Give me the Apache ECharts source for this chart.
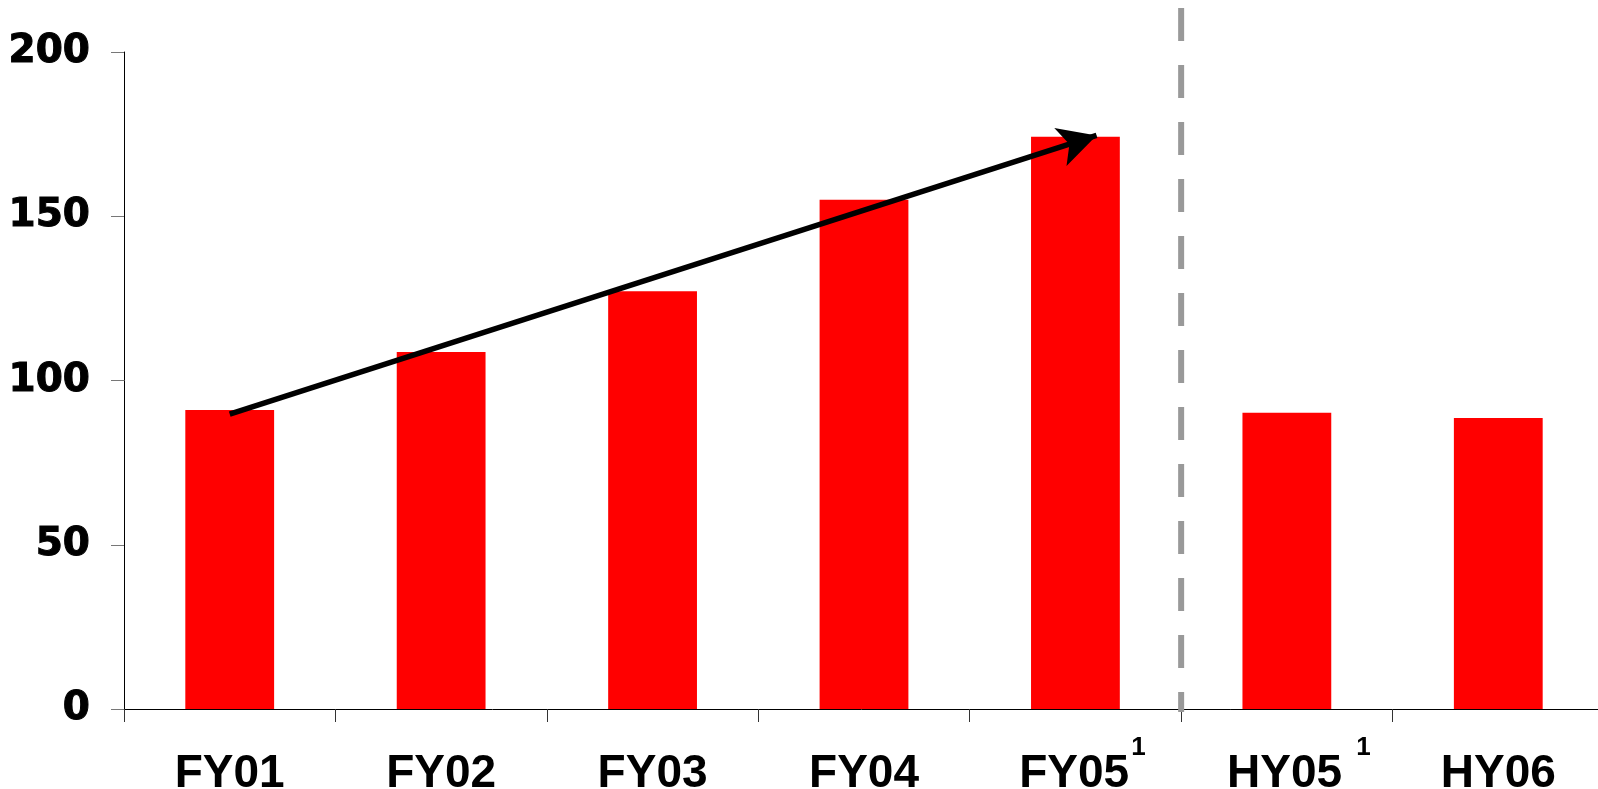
<!DOCTYPE html>
<html>
<head>
<meta charset="utf-8">
<style>
  html, body { margin: 0; padding: 0; background: #fff; }
  #chart { width: 1598px; height: 789px; }
</style>
<script src="https://cdn.jsdelivr.net/npm/echarts@6/dist/echarts.min.js"></script>
</head>
<body>
<div id="chart"></div>
<script>
// Period labels and footnote markers shown next to them
const categories = ['FY01', 'FY02', 'FY03', 'FY04', 'FY05', 'HY05', 'HY06'];
const footnotes  = ['', '', '', '', '1', '1', ''];

// Bar values per period
const values = [91.0, 108.7, 127.2, 155.0, 174.2, 90.2, 88.6];

// Y axis scale
const yMin = 0, yMax = 200, yStep = 50;

// Growth trend arrow: start and end points (x in category units, band centres at i + 0.5)
const trendStart = [0.5, 89.8];
const trendEnd   = [4.6, 174.6];

// Position of the divider between full-year and half-year figures (category boundary)
const dividerAt = 5;

const chart = echarts.init(document.getElementById('chart'));

const gridLeft = 124, gridWidth = 1480, gridBottom = 80;

const labelFont = 'Liberation Sans, Arial, sans-serif';
const mainStyle = (padLeft) => ({
  fontFamily: labelFont, fontWeight: 'bold', fontSize: 46, color: '#000',
  verticalAlign: 'bottom', padding: [18, 0, 0, padLeft]
});
const supStyle = (padLeft) => ({
  fontFamily: labelFont, fontWeight: 'bold', fontSize: 26, color: '#000',
  verticalAlign: 'top', padding: [2, 0, 0, padLeft]
});

// half-year footnote sits a little further from its label
const labelText = (v, i) => {
  if (!footnotes[i]) return '{m|' + v + '}';
  const half = v.startsWith('HY');
  return (half ? '{mh|' : '{mf|') + v + '}' + (half ? '{sh|' : '{sf|') + footnotes[i] + '}';
};

chart.setOption({
  animation: false,
  grid: [
    { left: gridLeft, width: gridWidth, top: 52, bottom: gridBottom, outerBoundsMode: 'none', containLabel: false },
    { left: gridLeft, width: gridWidth, top: 8, bottom: gridBottom - 3, outerBoundsMode: 'none', containLabel: false }
  ],
  xAxis: [
    {
      type: 'category',
      gridIndex: 0,
      data: categories,
      boundaryGap: true,
      axisLine: { lineStyle: { color: '#000', width: 1 } },
      axisTick: { show: true, length: 13, lineStyle: { color: '#333', width: 1 } },
      axisLabel: {
        margin: 24,
        interval: 0,
        color: '#000',
        formatter: labelText,
        rich: {
          m: mainStyle(0),
          mf: mainStyle(14),
          mh: mainStyle(24),
          sf: supStyle(2),
          sh: supStyle(14)
        }
      }
    },
    { type: 'value', gridIndex: 0, min: 0, max: categories.length, show: false },
    { type: 'value', gridIndex: 1, min: 0, max: categories.length, show: false }
  ],
  yAxis: [
    {
      type: 'value',
      gridIndex: 0,
      min: yMin,
      max: yMax,
      interval: yStep,
      splitLine: { show: false },
      axisLine: { show: true, lineStyle: { color: '#000', width: 1 } },
      axisTick: { show: true, length: 13, lineStyle: { color: '#777', width: 1 } },
      axisLabel: {
        margin: 34,
        color: '#000',
        fontFamily: 'DejaVu Sans, sans-serif',
        fontWeight: 'bold',
        fontSize: 39,
        textBorderColor: '#000',
        textBorderWidth: 1
      }
    },
    { type: 'value', gridIndex: 1, min: 0, max: 1, show: false }
  ],
  series: [
    {
      type: 'bar',
      xAxisIndex: 0,
      yAxisIndex: 0,
      data: values,
      barWidth: '42%',
      itemStyle: { color: '#ff0000' },
      z: 2
    },
    {
      // trend arrow drawn over the bars
      type: 'line',
      xAxisIndex: 1,
      yAxisIndex: 0,
      data: [],
      silent: true,
      markLine: {
        silent: true,
        symbol: ['none', 'arrow'],
        symbolSize: [30, 38],
        label: { show: false },
        lineStyle: { color: '#000', width: 5.5, type: 'solid' },
        data: [[{ coord: trendStart }, { coord: trendEnd }]]
      },
      z: 5
    },
    {
      // dashed divider between full-year and half-year periods, drawn top-down
      type: 'line',
      xAxisIndex: 2,
      yAxisIndex: 1,
      data: [[dividerAt, 1], [dividerAt, 0]],
      symbol: 'none',
      silent: true,
      lineStyle: { color: '#999', width: 6, type: [33, 24] },
      z: 3
    }
  ]
});
</script>
</body>
</html>
